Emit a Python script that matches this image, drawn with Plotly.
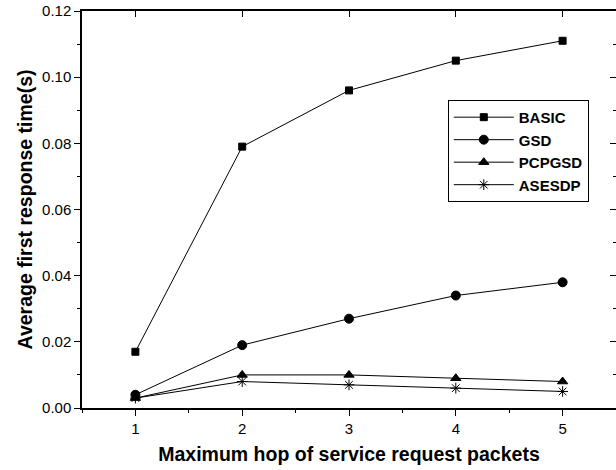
import plotly.graph_objects as go

hops = [1, 2, 3, 4, 5]
basic = [0.017, 0.079, 0.096, 0.105, 0.111]
gsd = [0.004, 0.019, 0.027, 0.034, 0.038]
pcpgsd = [0.003, 0.010, 0.010, 0.009, 0.008]
asesdp = [0.003, 0.008, 0.007, 0.006, 0.005]

series = [
    ("BASIC", basic, "square", 7),
    ("GSD", gsd, "circle", 9),
    ("PCPGSD", pcpgsd, "triangle-up", 9),
    ("ASESDP", asesdp, "asterisk-open", 9),
]

FONT = "Arial, Liberation Sans, sans-serif"
fig = go.Figure()
for name, vals, sym, sz in series:
    fig.add_trace(go.Scatter(
        x=hops, y=vals, name="<b>%s</b>" % name, mode="lines+markers",
        line=dict(color="black", width=1),
        marker=dict(symbol=sym, size=sz, color="black",
                    line=dict(color="black", width=1)),
    ))
# helper trace for mirrored top/right axes
fig.add_trace(go.Scatter(x=[None], y=[None], xaxis="x2", yaxis="y2",
                         showlegend=False, hoverinfo="skip"))

fig.update_layout(
    width=616, height=470,
    margin=dict(l=82, r=0, t=11, b=62),
    paper_bgcolor="white", plot_bgcolor="white",
    font=dict(family=FONT, color="black"),
    showlegend=True,
    legend=dict(x=0.685, y=0.776, xanchor="left", yanchor="top",
                bordercolor="black", borderwidth=1, bgcolor="white",
                font=dict(family=FONT, size=15, color="black"),
                itemwidth=60, tracegroupgap=0),
    xaxis=dict(range=[0.5, 5.5], tickvals=hops, ticks="outside", ticklen=6,
               tickwidth=1.2, tickcolor="black", showline=True, linecolor="black",
               linewidth=1.5, showgrid=False, zeroline=False, automargin=False,
               tickfont=dict(size=15, family=FONT),
               minor=dict(tickvals=[0.5, 1.5, 2.5, 3.5, 4.5, 5.5], ticks="outside",
                          ticklen=3, tickcolor="black", tickwidth=1.2),
               title=dict(text="<b>Maximum hop of service request packets</b>",
                          font=dict(size=19.5, family=FONT), standoff=12)),
    yaxis=dict(range=[0, 0.12], dtick=0.02, tickformat=".2f", ticks="outside",
               ticklen=6, tickwidth=1.2, tickcolor="black", showline=True,
               linecolor="black", linewidth=1.5, showgrid=False, zeroline=False,
               automargin=False, ticklabeloverflow="allow",
               tickfont=dict(size=15, family=FONT),
               minor=dict(dtick=0.01, ticks="outside", ticklen=3,
                          tickcolor="black", tickwidth=1.2),
               title=dict(text="<b>Average first response time(s)</b>",
                          font=dict(size=19.5, family=FONT), standoff=4)),
    xaxis2=dict(range=[0.5, 5.5], overlaying="x", side="top", anchor="y2",
                tickvals=hops, ticks="inside", ticklen=6, tickcolor="black",
                tickwidth=1.2, showticklabels=False, showline=True, automargin=False,
                linecolor="black", linewidth=1.5, showgrid=False, zeroline=False),
    yaxis2=dict(range=[0, 0.12], overlaying="y", side="right", anchor="x2",
                dtick=0.02, ticks="inside", ticklen=6, tickcolor="black",
                tickwidth=1.2, showticklabels=False, showline=True, automargin=False,
                linecolor="black", linewidth=1.5, showgrid=False, zeroline=False,
                minor=dict(dtick=0.01, ticks="inside", ticklen=3,
                           tickcolor="black", tickwidth=1.2)),
)

fig.write_html("out.html", config={"displayModeBar": False},
               post_script="document.body.style.margin='0';")
